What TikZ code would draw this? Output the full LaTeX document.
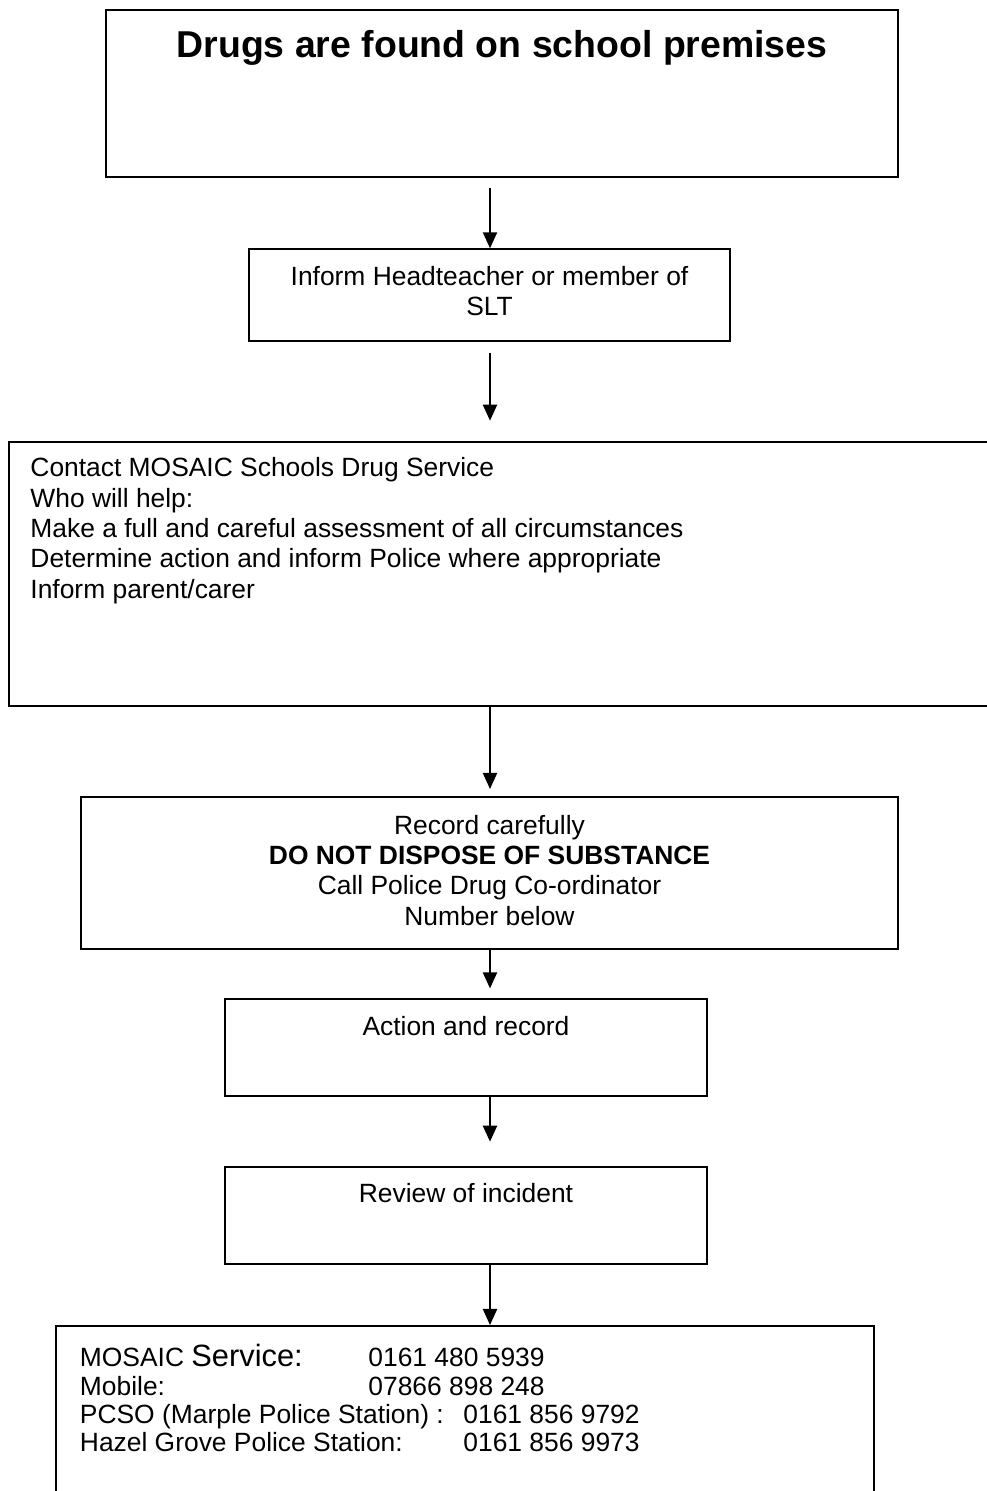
\documentclass[tikz,border=0pt]{standalone}
\usepackage{fontspec}
\setmainfont{Liberation Sans}
\usetikzlibrary{arrows.meta}
\newcommand\pxu{0.4545pt}
\begin{document}
\begin{tikzpicture}[x=0.4545pt, y=-0.4545pt,
  box/.style={draw, line width=0.9pt, rectangle, inner sep=0pt},
  txt/.style={inner sep=0pt, font=\fontsize{12}{13.8}\selectfont},
  arr/.style={line width=0.9pt, -{Triangle[width=6.4pt, length=7.3pt]}}]
\useasboundingbox (0,0) rectangle (987,1491);
\clip (0,0) rectangle (987,1491);
% boxes
\node[box, minimum width=792*\pxu, minimum height=167*\pxu] (b1) at (502,93.5) {};
\node[box, minimum width=480.7*\pxu, minimum height=91.4*\pxu] (b2) at (489.65,295) {};
\node[box, minimum width=990.7*\pxu, minimum height=263.8*\pxu] (b3) at (504.65,573.6) {};
\node[box, minimum width=817*\pxu, minimum height=152*\pxu] (b4) at (489.5,873) {};
\node[box, minimum width=481.4*\pxu, minimum height=96.4*\pxu] (b5) at (466,1047.5) {};
\node[box, minimum width=481.4*\pxu, minimum height=96.4*\pxu] (b6) at (466,1215.5) {};
\node[box, minimum width=818*\pxu, minimum height=174*\pxu] (b7) at (465,1413) {};
% texts (multi-line nodes: base = baseline of last line)
\node[inner sep=0pt, anchor=base, font=\fontsize{17}{19.5}\selectfont\bfseries] (t1) at (502,57) {Drugs are found on school premises};
\node[txt, anchor=base, align=center] (t2) at (489.5,315.4) {Inform Headteacher or member of\\SLT};
\node[txt, anchor=base west, align=left] (t3) at (30,598.3) {Contact MOSAIC Schools Drug Service\\Who will help:\\Make a full and careful assessment of all circumstances\\Determine action and inform Police where appropriate\\Inform parent/carer};
\node[txt, anchor=base, align=center] (t4) at (489.5,925.2) {Record carefully\\\textbf{DO NOT DISPOSE OF SUBSTANCE}\\Call Police Drug Co-ordinator\\Number below};
\node[txt, anchor=base] (t5) at (466,1035) {Action and record};
\node[txt, anchor=base] (t6) at (466,1202.7) {Review of incident};
\node[txt, anchor=base west] (l1) at (79.5,1366) {MOSAIC {\fontsize{14}{16}\selectfont Service:}};
\node[txt, anchor=base west] (n1) at (368,1366) {0161 480 5939};
\node[txt, anchor=base west] (l2) at (79.5,1395) {Mobile:};
\node[txt, anchor=base west] (n2) at (368,1395) {07866 898 248};
\node[txt, anchor=base west] (l3) at (79.5,1423) {PCSO (Marple Police Station) :};
\node[txt, anchor=base west] (n3) at (463,1423) {0161 856 9792};
\node[txt, anchor=base west] (l4) at (79.5,1451) {Hazel Grove Police Station:};
\node[txt, anchor=base west] (n4) at (463,1451) {0161 856 9973};
% connectors
\coordinate (ax) at (490,0);
\draw[arr, shorten <=4.5pt] (b1.south -| ax) -- (b2.north -| ax);
\draw[arr, shorten <=5pt, shorten >=9.1pt] (b2.south -| ax) -- (b3.north -| ax);
\draw[arr, shorten >=3.2pt] (b3.south -| ax) -- (b4.north -| ax);
\draw[arr, shorten >=4.5pt] (b4.south -| ax) -- (b5.north -| ax);
\draw[arr, shorten >=11.2pt] (b5.south -| ax) -- (b6.north -| ax);
\draw[arr] (b6.south -| ax) -- (b7.north -| ax);
\end{tikzpicture}
\end{document}
